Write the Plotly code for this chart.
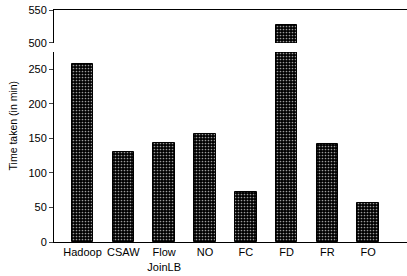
import plotly.graph_objects as go

categories = ["Hadoop", "CSAW", "Flow<br>JoinLB", "NO", "FC", "FD", "FR", "FO"]
values = [257, 131, 143, 156, 72, 528, 142, 56]
lower_ticks = [0, 50, 100, 150, 200, 250]
upper_ticks = [500, 550]

xs = list(range(len(categories)))
pattern = dict(shape=".", bgcolor="black", fgcolor="#9c9c9c", size=3, solidity=0.25, fillmode="replace")

fig = go.Figure()
for xa, ya in (("x", "y"), ("x2", "y2")):
    fig.add_trace(go.Bar(x=xs, y=values, width=0.53, xaxis=xa, yaxis=ya,
                         marker=dict(color="black", pattern=pattern, line=dict(color="black", width=1))))

font = dict(family="Liberation Sans, Arial, sans-serif", size=11, color="black")
fig.update_layout(
    width=407, height=276,
    margin=dict(l=54, r=0, t=10, b=34),
    plot_bgcolor="white", paper_bgcolor="white",
    showlegend=False, font=font, bargap=0,
    xaxis=dict(domain=[0, 1], anchor="y", range=[-0.7, 7.95], tickvals=xs, ticktext=categories,
               showline=True, linecolor="black", linewidth=1, ticks="", showgrid=False, zeroline=False,
               tickfont=font, automargin=False),
    yaxis=dict(domain=[0, 0.819], anchor="x", range=[0, 275], tickvals=lower_ticks,
               showline=True, linecolor="black", linewidth=1, ticks="outside", ticklen=4,
               showgrid=False, zeroline=False, tickfont=font, automargin=False),
    xaxis2=dict(domain=[0, 1], anchor="y2", range=[-0.7, 7.95], side="top", showticklabels=False,
                showline=True, linecolor="black", linewidth=1, ticks="", showgrid=False, zeroline=False),
    yaxis2=dict(domain=[0.858, 1], anchor="x2", range=[500, 550], tickvals=upper_ticks,
                showline=True, linecolor="black", linewidth=1, ticks="outside", ticklen=4,
                showgrid=False, zeroline=False, tickfont=font, automargin=False),
    annotations=[dict(text="Time taken (in min)", x=-0.115, xref="paper", y=0.5, yref="paper",
                      textangle=-90, showarrow=False,
                      font=dict(family=font["family"], size=10.5, color="black"),
                      xanchor="center", yanchor="middle")],
)
fig.write_html("out.html", config={"displayModeBar": False},
               post_script="document.body.style.margin='0';document.body.style.overflow='hidden';")
